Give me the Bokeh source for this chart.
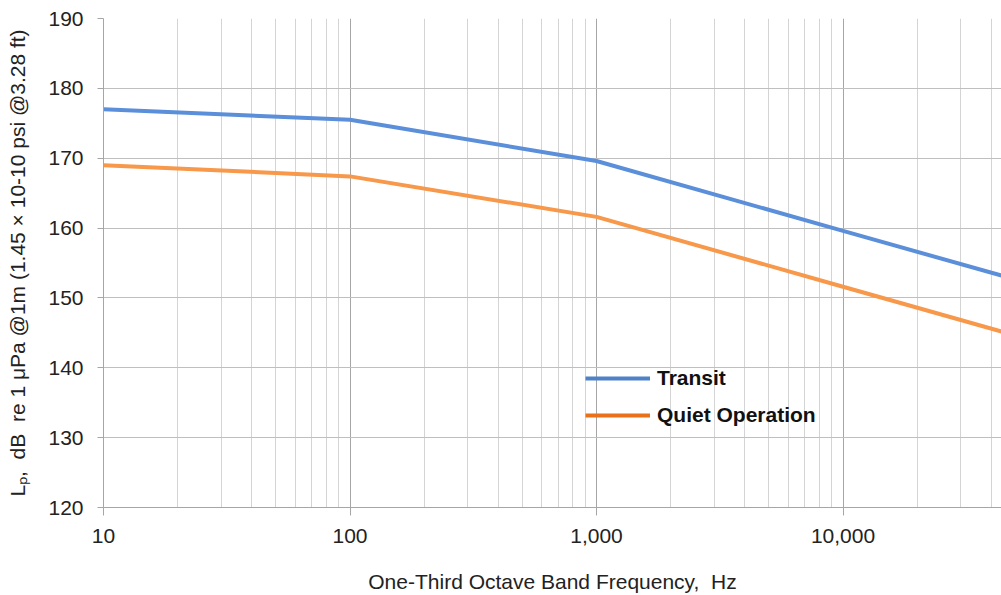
from bokeh.plotting import figure
from bokeh.models import (FixedTicker, NumeralTickFormatter, Legend, LegendItem,
                          ColumnDataSource, Range1d)
from bokeh.embed import file_html
from bokeh.resources import INLINE

# Data
freq = [10, 100, 1000, 10000, 43950]
transit = [177.0, 175.5, 169.6, 159.6, 153.2]
quiet = [169.0, 167.4, 161.6, 151.6, 145.2]
x_ticks = [10, 100, 1000, 10000]
x_minor = [m * d for d in [10, 100, 1000, 10000] for m in range(2, 10) if m * d <= 43950]
y_ticks = [120, 130, 140, 150, 160, 170, 180, 190]

FONT = "Liberation Sans"
NB = "\u00a0"

p = figure(width=1001, height=595, x_axis_type="log",
           x_range=Range1d(10, 43950), y_range=Range1d(120, 190),
           output_backend="svg", toolbar_location=None,
           min_border_left=103, min_border_top=18, min_border_bottom=87, min_border_right=0)
p.outline_line_color = None
p.background_fill_color = "white"
p.border_fill_color = "white"

# axes
p.xaxis.ticker = FixedTicker(ticks=x_ticks, minor_ticks=x_minor)
p.xaxis.formatter = NumeralTickFormatter(format="0,0")
p.yaxis.ticker = FixedTicker(ticks=y_ticks)
for ax in (p.xaxis[0], p.yaxis[0]):
    ax.axis_line_color = "#a6a6a6"
    ax.major_tick_line_color = "#a6a6a6"
    ax.minor_tick_line_color = None
    ax.major_tick_in = 0
    ax.major_label_text_font = FONT
    ax.major_label_text_font_size = "21px"
    ax.major_label_text_color = "#222222"
    ax.axis_label_text_font = FONT
    ax.axis_label_text_font_size = "21px"
    ax.axis_label_text_font_style = "normal"
    ax.axis_label_text_color = "#222222"
p.xaxis.major_tick_out = 8
p.yaxis.major_tick_out = 6
p.xaxis.major_label_standoff = 13
p.yaxis.major_label_standoff = 14
p.xaxis.axis_label = "One-Third Octave Band Frequency," + NB + NB + "Hz"
p.yaxis.axis_label = "Lₚ," + NB + NB + "dB" + NB + NB + "re 1 μPa @1m (1.45 × 10-10 psi @3.28 ft)"
p.xaxis.axis_label_standoff = 24
p.yaxis.axis_label_standoff = 16

# grids
p.xgrid.ticker = FixedTicker(ticks=x_ticks, minor_ticks=x_minor)
p.xgrid.grid_line_color = "#a6a6a6"
p.xgrid.minor_grid_line_color = "#d4d4d4"
p.ygrid.grid_line_color = "#bfbfbf"

src = ColumnDataSource(dict(f=freq, t=transit, q=quiet))
p.line("f", "t", source=src, line_color="#5b8fd9", line_width=4)
p.line("f", "q", source=src, line_color="#f7984a", line_width=4)

# legend-only renderers (data outside the visible range)
off = ColumnDataSource(dict(x=[1, 2], y=[0, 0]))
lt = p.line("x", "y", source=off, line_color="#4f81c7", line_width=4)
lq = p.line("x", "y", source=off, line_color="#e8711a", line_width=4)

legend = Legend(items=[LegendItem(label="Transit", renderers=[lt]),
                       LegendItem(label="Quiet Operation", renderers=[lq])],
                location=(482, 80), padding=0, margin=0, spacing=13,
                glyph_width=65, glyph_height=20, label_height=20,
                label_standoff=7, border_line_color=None,
                background_fill_alpha=0,
                label_text_font=FONT, label_text_font_size="21px",
                label_text_font_style="bold", label_text_color="#111111")
p.add_layout(legend, "center")

open("out.html", "w").write(file_html(p, INLINE))
